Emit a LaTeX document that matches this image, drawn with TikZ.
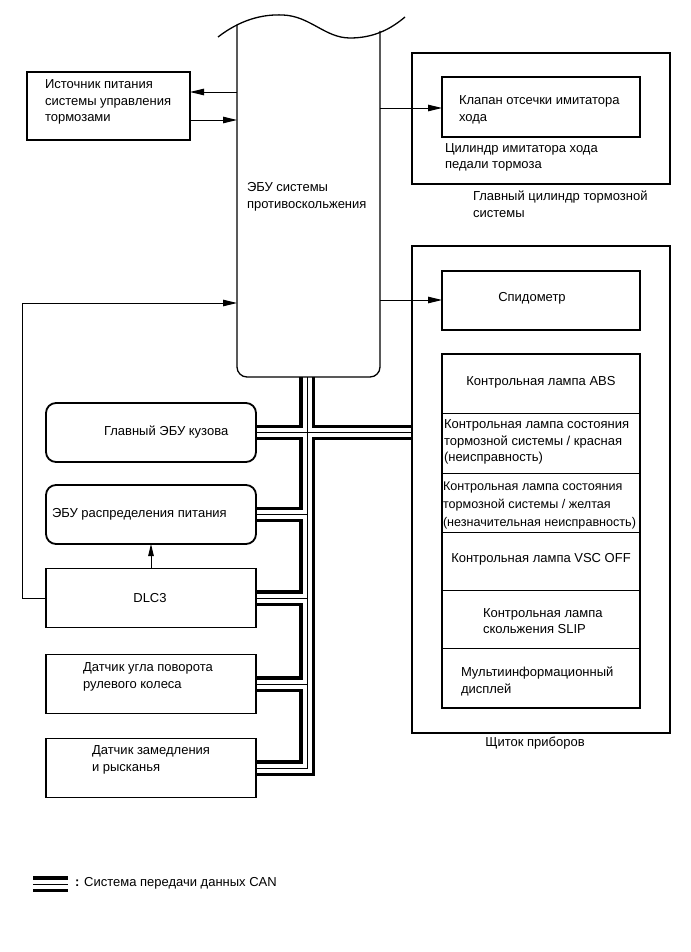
\documentclass[tikz,border=0pt]{standalone}
\usepackage{fontspec}
\setmainfont{Liberation Sans}
\usetikzlibrary{arrows.meta}
\begin{document}
\begin{tikzpicture}[x=1pt,y=-1pt,
  txt/.style={font=\fontsize{13}{16.5}\selectfont, inner sep=0pt, outer sep=0pt, align=left},
  box/.style={draw, line width=1.8pt, inner sep=0pt, outer sep=0pt, minimum width=210pt, minimum height=59pt},
  rbox/.style={box, rounded corners=10pt},
  frame/.style={draw, line width=2pt, inner sep=0pt, outer sep=0pt},
  inbox/.style={draw, line width=1.3pt, inner sep=0pt, outer sep=0pt, minimum width=198pt},
  lampcell/.style={draw, line width=0.9pt, inner sep=0pt, outer sep=0pt, minimum width=198pt},
  arr/.style={line width=0.9pt, -{Triangle[length=14pt,width=6.5pt]}},
  busA/.style={line width=15.5pt, black},
  busB/.style={line width=9pt, white},
  busC/.style={line width=0.9pt, black},
  eculine/.style={line width=1.3pt},
]
\useasboundingbox (0,0) rectangle (690,952);

% box nodes (outlines drawn after the bus)
\node[box, draw=none, minimum width=163pt, minimum height=68pt] (pwr) at (108.5,106) {};
\node[frame, draw=none, minimum width=258pt, minimum height=131pt] (mc) at (541,118.5) {};
\node[inbox, draw=none, minimum height=60pt] (valve) at (541,107) {};
\node[frame, draw=none, minimum width=258pt, minimum height=487pt] (panel) at (541,489.5) {};
\node[inbox, draw=none, minimum height=59pt] (speedo) at (541,300.5) {};
\node[rbox, draw=none] (bodyecu) at (151,432.5) {};
\node[rbox, draw=none] (pdecu) at (151,514.5) {};
\node[box, draw=none] (dlc) at (151,598) {};
\node[box, draw=none] (steer) at (151,684) {};
\node[box, draw=none] (yaw) at (151,768) {};
\coordinate (trunktop) at (307,377);
\coordinate (trunkbot) at (307,768);
\coordinate (legA) at (33,884);
\coordinate (legB) at (68,884);

% CAN bus
\newcommand\canbus[1]{%
  \draw[#1] (trunktop) -- (trunkbot) -- (yaw.east);
  \draw[#1] (bodyecu.east) -- (bodyecu.east -| panel.west);
  \draw[#1] (pdecu.east) -- (pdecu.east -| trunktop);
  \draw[#1] (dlc.east) -- (dlc.east -| trunktop);
  \draw[#1] (steer.east) -- (steer.east -| trunktop);
  \draw[#1] (legA) -- (legB);
}
\canbus{busA}
\canbus{busB}
\canbus{busC}

% outlines
\draw[line width=1.4pt] (pwr.north west) rectangle (pwr.south east);
\draw[line width=2pt] (mc.north west) rectangle (mc.south east);
\draw[line width=1.3pt] (valve.north west) rectangle (valve.south east);
\draw[line width=2pt] (panel.north west) rectangle (panel.south east);
\draw[line width=1.4pt] (speedo.north west) rectangle (speedo.south east);
\draw[line width=1.8pt, rounded corners=10pt] (bodyecu.north west) rectangle (bodyecu.south east);
\draw[line width=1.8pt, rounded corners=10pt] (pdecu.north west) rectangle (pdecu.south east);
\draw[line width=1.8pt] (dlc.north west) rectangle (dlc.south east);
\draw[line width=1.8pt] (steer.north west) rectangle (steer.south east);
\draw[line width=1.8pt] (yaw.north west) rectangle (yaw.south east);

% ECU
\draw[eculine] (218,37) .. controls (240,20) and (262,14) .. (283,15)
  .. controls (310,16) and (325,38) .. (350,38)
  .. controls (375,38) and (392,28) .. (405,17);
\draw[eculine, rounded corners=10pt] (237,25) -- (237,377) -- (380,377) -- (380,31);
\node[txt, anchor=west] (ecuT) at (247,197) {ЭБУ системы\\противоскольжения};

% lamp stack
\node[lampcell, minimum height=59pt] (lABS) at (541,383.5) {};
\node[lampcell, minimum height=60pt] (lRed) at (541,443) {};
\node[lampcell, minimum height=59pt] (lYel) at (541,502.5) {};
\node[lampcell, minimum height=58pt] (lVsc) at (541,561) {};
\node[lampcell, minimum height=58pt] (lSlip) at (541,619) {};
\node[lampcell, minimum height=60pt] (lMulti) at (541,678) {};
\draw[line width=1.5pt] (lABS.north west) rectangle (lMulti.south east);

% texts
\node[txt, anchor=west] (pwrT) at (45,102) {Источник питания\\системы управления\\тормозами};
\node[txt, anchor=west] (valveT) at (459,110) {Клапан отсечки имитатора\\хода};
\node[txt, anchor=west] (cylT) at (445,157.5) {Цилиндр имитатора хода\\педали тормоза};
\node[txt, anchor=west] (mcT) at (473,204) {Главный цилиндр тормозной\\системы};
\node[txt] (speedoT) at (532,298) {Спидометр};
\node[txt] (absT) at (541,382) {Контрольная лампа ABS};
\node[txt, anchor=west] (redT) at (444,442) {Контрольная лампа состояния\\тормозной системы / красная\\(неисправность)};
\node[txt, anchor=west, font=\fontsize{12.6}{18}\selectfont] (yelT) at (443,505) {Контрольная лампа состояния\\тормозной системы / желтая\\(незначительная неисправность)};
\node[txt] (vscT) at (541,559) {Контрольная лампа VSC OFF};
\node[txt, anchor=west] (slipT) at (483,621) {Контрольная лампа\\скольжения SLIP};
\node[txt, anchor=west] (multiT) at (461,681.5) {Мультиинформационный\\дисплей};
\node[txt] (panelT) at (535,743) {Щиток приборов};
\node[txt, anchor=west] (bodyT) at (104,432) {Главный ЭБУ кузова};
\node[txt, anchor=west] (pdT) at (52,514) {ЭБУ распределения питания};
\node[txt] (dlcT) at (150,598) {DLC3};
\node[txt, anchor=west] (steerT) at (83,677) {Датчик угла поворота\\рулевого колеса};
\node[txt, anchor=west] (yawT) at (92,760) {Датчик замедления\\и рысканья};
\node[txt, anchor=west] (legT) at (75,883) {\textbf{:} Система передачи данных CAN};

% connectors
\coordinate (eA) at (237,92);
\coordinate (eB) at (237,120);
\coordinate (eC) at (380,108);
\coordinate (eD) at (380,300);
\coordinate (eE) at (237,303);
\draw[arr] (eA) -- (eA -| pwr.east);
\draw[arr] (eB -| pwr.east) -- (eB);
\draw[arr] (eC) -- (eC -| valve.west);
\draw[arr] (eD) -- (eD -| speedo.west);
\draw[arr] (dlc.west) -- ++(-24,0) |- (eE);
\draw[arr, -{Triangle[length=12pt,width=5.5pt]}] (dlc.north) -- (pdecu.south);
\end{tikzpicture}
\end{document}
